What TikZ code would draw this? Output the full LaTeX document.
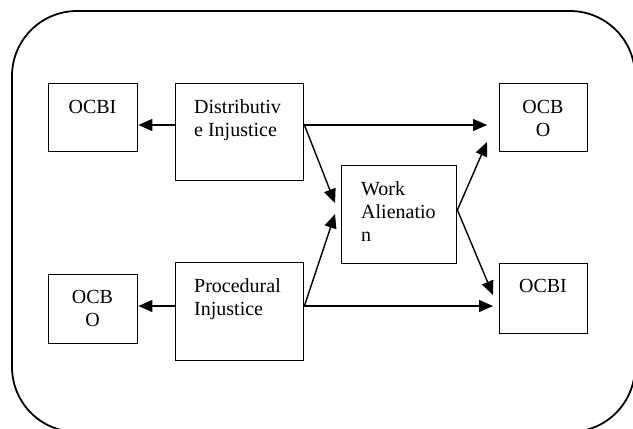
\documentclass[tikz,border=0pt]{standalone}
\usepackage{fontspec}
\setmainfont{Liberation Serif}
\usetikzlibrary{arrows.meta,calc}
\begin{document}
\begin{tikzpicture}[x=1pt,y=-1pt,
  box/.style={draw,line width=1.4pt,inner sep=0pt,anchor=north west},
  txt/.style={inner sep=0pt,font=\fontsize{20}{23}\selectfont},
  conn/.style={line width=1.4pt,-{Triangle[length=14pt,width=12pt]}}]
\clip (0,0) rectangle (633,429);
\draw[line width=1.8pt,rounded corners=65pt] (12,11) rectangle (635,432);
% boxes
\node[box,minimum width=89pt,minimum height=68pt] (ocbiL) at (48,83) {};
\node[box,minimum width=128pt,minimum height=97pt] (dj) at (175,83) {};
\node[box,minimum width=88pt,minimum height=68pt] (ocboR) at (499,83) {};
\node[box,minimum width=115pt,minimum height=98pt] (wa) at (341,165) {};
\node[box,minimum width=89pt,minimum height=69pt] (ocboL) at (48,274) {};
\node[box,minimum width=128pt,minimum height=98pt] (pj) at (175,262) {};
\node[box,minimum width=88pt,minimum height=70pt] (ocbiR) at (499,263) {};
% texts
\node[txt,anchor=base] (ocbiL-t) at (92.5,113) {OCBI};
\node[txt,anchor=base west] (dj-t) at (194,113) {\begin{tabular}[t]{@{}l@{}}Distributiv\\e Injustice\end{tabular}};
\node[txt,anchor=base] (ocboR-t) at (543,113) {\begin{tabular}[t]{@{}c@{}}OCB\\O\end{tabular}};
\node[txt,anchor=base west] (wa-t) at (361,195) {\begin{tabular}[t]{@{}l@{}}Work\\Alienatio\\n\end{tabular}};
\node[txt,anchor=base] (ocboL-t) at (92.5,303) {\begin{tabular}[t]{@{}c@{}}OCB\\O\end{tabular}};
\node[txt,anchor=base west] (pj-t) at (194,292) {\begin{tabular}[t]{@{}l@{}}Procedural\\Injustice\end{tabular}};
\node[txt,anchor=base] (ocbiR-t) at (543,292) {OCBI};
% levels
\coordinate (rowA) at (0,125);
\coordinate (rowB) at (0,306);
\coordinate (waA) at (0,203);
\coordinate (waB) at (0,214);
\coordinate (waOut) at (0,210);
\coordinate (ocboIn) at (0,142);
\coordinate (ocbiIn) at (0,295);
% connectors
\draw[conn] (dj.west |- rowA) -- (ocbiL.east |- rowA);
\draw[conn] (pj.west |- rowB) -- (ocboL.east |- rowB);
\draw[conn] (dj.east |- rowA) -- ([xshift=-12pt]ocboR.west |- rowA);
\draw[conn] (pj.east |- rowB) -- ([xshift=-6pt]ocbiR.west |- rowB);
\draw[conn] (dj.east |- rowA) -- ([xshift=-6pt]wa.west |- waA);
\draw[conn] (pj.east |- rowB) -- ([xshift=-6pt]wa.west |- waB);
\draw[conn] (wa.east |- waOut) -- ([xshift=-12pt]ocboR.west |- ocboIn);
\draw[conn] (wa.east |- waOut) -- ([xshift=-6pt]ocbiR.west |- ocbiIn);
\end{tikzpicture}
\end{document}
